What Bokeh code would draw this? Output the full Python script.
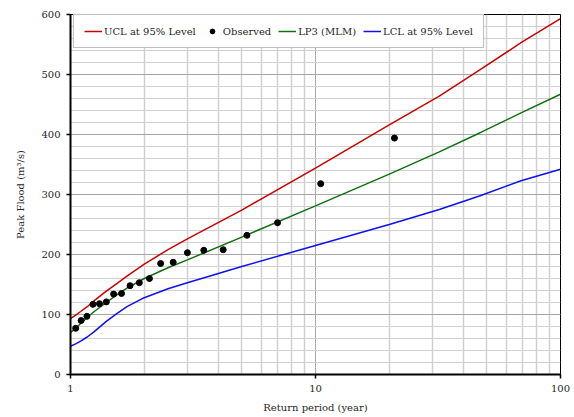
from bokeh.plotting import figure
from bokeh.models import FixedTicker, Legend, LegendItem, Range1d, PrintfTickFormatter
from bokeh.embed import file_html
from bokeh.resources import INLINE

# Observed annual peaks (return period in years, peak flood m3/s)
obs_T = [21.0, 10.5, 7.0, 5.25, 4.2, 3.5, 3.0, 2.625, 2.333, 2.1,
         1.909, 1.75, 1.615, 1.5, 1.4, 1.313, 1.235, 1.167, 1.105, 1.05]
obs_Q = [394, 318, 253, 232, 208, 207, 203, 187, 185, 160,
         153, 148, 135, 134, 121, 118, 117, 97, 90, 77]

# Fitted curves
curve_T = [1.0, 1.05, 1.1, 1.17, 1.25, 1.4, 1.55, 1.7, 2.0, 2.5, 3.0, 5.0,
           10.0, 20.0, 32.0, 47.0, 69.0, 100.0]
ucl_Q = [93, 99, 105, 113, 123, 139, 152, 164, 184, 208, 226, 274,
         344, 416, 464, 508, 553, 593]
lp3_Q = [70, 77, 85, 95, 105, 120, 133, 144, 160, 178, 191, 229,
         281, 334, 371, 403, 436, 467]
lcl_Q = [47, 51, 55.5, 62.5, 71.5, 88.5, 102, 113, 128, 143, 153, 180,
         215, 250, 275, 298, 323, 342]

x_major = [1, 10, 100]
x_minor = [2, 3, 4, 5, 6, 7, 8, 9, 20, 30, 40, 50, 60, 70, 80, 90]
y_major = [0, 100, 200, 300, 400, 500, 600]
y_minor = list(range(0, 601, 20))

FONT = "DejaVu Serif"
TXT = "#262626"

p = figure(width=574, height=417, x_axis_type="log",
           x_range=Range1d(1, 100), y_range=Range1d(0, 600),
           output_backend="svg", toolbar_location=None,
           min_border_left=70, min_border_right=14,
           min_border_top=14, min_border_bottom=43)

p.background_fill_color = "white"
p.border_fill_color = "white"
p.outline_line_color = "black"
p.outline_line_width = 1

xt = FixedTicker(ticks=x_major, minor_ticks=x_minor)
yt = FixedTicker(ticks=y_major, minor_ticks=y_minor)
p.xaxis.ticker = xt
p.yaxis.ticker = yt
p.xgrid.ticker = xt
p.ygrid.ticker = yt
p.xaxis.formatter = PrintfTickFormatter(format="%d")

p.xgrid.grid_line_color = "#a6a6a6"
p.xgrid.grid_line_width = 1
p.xgrid.minor_grid_line_color = "#d0d0d0"
p.xgrid.minor_grid_line_width = 1.5
p.ygrid.grid_line_color = "#a6a6a6"
p.ygrid.grid_line_width = 1
p.ygrid.minor_grid_line_color = "#d0d0d0"
p.ygrid.minor_grid_line_width = 1

for ax in (p.xaxis, p.yaxis):
    ax.axis_line_color = "black"
    ax.axis_line_width = 2
    ax.major_tick_line_color = "black"
    ax.major_tick_line_width = 1.5
    ax.major_tick_out = 4
    ax.major_tick_in = 0
    ax.minor_tick_line_color = None
    ax.major_label_text_font = FONT
    ax.major_label_text_font_size = "10px"
    ax.major_label_text_color = TXT
    ax.axis_label_text_font = FONT
    ax.axis_label_text_font_size = "10px"
    ax.axis_label_text_font_style = "normal"
    ax.axis_label_text_color = TXT

p.xaxis.major_label_standoff = 6
p.xaxis.axis_label = "Return period (year)"
p.xaxis.axis_label_standoff = 7
p.yaxis.major_label_standoff = 6
p.yaxis.axis_label = "Peak Flood (m³/s)"
p.yaxis.axis_label_standoff = 12

r_ucl = p.line(curve_T, ucl_Q, line_color="#cc0000", line_width=1.5)
r_lp3 = p.line(curve_T, lp3_Q, line_color="#107010", line_width=1.5)
r_lcl = p.line(curve_T, lcl_Q, line_color="#1010ee", line_width=1.5)
r_obs = p.scatter(obs_T, obs_Q, size=6, marker="circle",
                  fill_color="black", line_color="black")

legend = Legend(items=[
    LegendItem(label="UCL at 95% Level", renderers=[r_ucl]),
    LegendItem(label="Observed", renderers=[r_obs]),
    LegendItem(label="LP3 (MLM)", renderers=[r_lp3]),
    LegendItem(label="LCL at 95% Level", renderers=[r_lcl]),
], orientation="horizontal", location=(3, 326))
legend.label_text_font = FONT
legend.label_text_font_size = "10px"
legend.label_text_color = TXT
legend.glyph_width = 18
legend.glyph_height = 12
legend.label_height = 12
legend.label_standoff = 2
legend.spacing = 7
legend.padding = 10
legend.margin = 0
legend.border_line_color = "#808080"
legend.border_line_width = 1
legend.background_fill_color = "white"
legend.background_fill_alpha = 1.0
p.add_layout(legend, "center")

open("out.html", "w").write(file_html(p, INLINE))
